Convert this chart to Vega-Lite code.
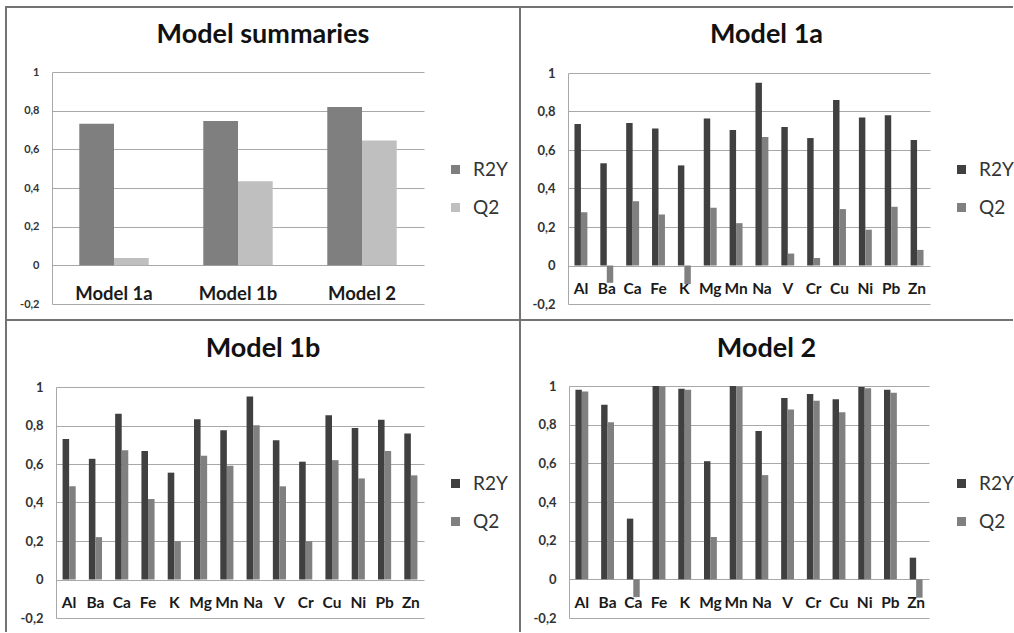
{
  "$schema": "https://vega.github.io/schema/vega-lite/v6.json",
  "padding": {"left": 5, "top": 6, "right": 0, "bottom": 0},
  "background": "white",
  "spacing": 0,
  "bounds": "flush",
  "columns": 2,
  "data": {"values": [
    {"p": "S", "el": "Model 1a", "s": "R2Y", "v": 0.732},
    {"p": "S", "el": "Model 1a", "s": "Q2", "v": 0.038},
    {"p": "S", "el": "Model 1b", "s": "R2Y", "v": 0.746},
    {"p": "S", "el": "Model 1b", "s": "Q2", "v": 0.435},
    {"p": "S", "el": "Model 2", "s": "R2Y", "v": 0.819},
    {"p": "S", "el": "Model 2", "s": "Q2", "v": 0.646},

    {"p": "1a", "el": "Al", "s": "R2Y", "v": 0.735}, {"p": "1a", "el": "Al", "s": "Q2", "v": 0.277},
    {"p": "1a", "el": "Ba", "s": "R2Y", "v": 0.531}, {"p": "1a", "el": "Ba", "s": "Q2", "v": -0.09},
    {"p": "1a", "el": "Ca", "s": "R2Y", "v": 0.740}, {"p": "1a", "el": "Ca", "s": "Q2", "v": 0.334},
    {"p": "1a", "el": "Fe", "s": "R2Y", "v": 0.712}, {"p": "1a", "el": "Fe", "s": "Q2", "v": 0.265},
    {"p": "1a", "el": "K", "s": "R2Y", "v": 0.520}, {"p": "1a", "el": "K", "s": "Q2", "v": -0.096},
    {"p": "1a", "el": "Mg", "s": "R2Y", "v": 0.764}, {"p": "1a", "el": "Mg", "s": "Q2", "v": 0.300},
    {"p": "1a", "el": "Mn", "s": "R2Y", "v": 0.704}, {"p": "1a", "el": "Mn", "s": "Q2", "v": 0.220},
    {"p": "1a", "el": "Na", "s": "R2Y", "v": 0.950}, {"p": "1a", "el": "Na", "s": "Q2", "v": 0.667},
    {"p": "1a", "el": "V", "s": "R2Y", "v": 0.719}, {"p": "1a", "el": "V", "s": "Q2", "v": 0.062},
    {"p": "1a", "el": "Cr", "s": "R2Y", "v": 0.662}, {"p": "1a", "el": "Cr", "s": "Q2", "v": 0.039},
    {"p": "1a", "el": "Cu", "s": "R2Y", "v": 0.860}, {"p": "1a", "el": "Cu", "s": "Q2", "v": 0.293},
    {"p": "1a", "el": "Ni", "s": "R2Y", "v": 0.769}, {"p": "1a", "el": "Ni", "s": "Q2", "v": 0.186},
    {"p": "1a", "el": "Pb", "s": "R2Y", "v": 0.781}, {"p": "1a", "el": "Pb", "s": "Q2", "v": 0.305},
    {"p": "1a", "el": "Zn", "s": "R2Y", "v": 0.652}, {"p": "1a", "el": "Zn", "s": "Q2", "v": 0.081},

    {"p": "1b", "el": "Al", "s": "R2Y", "v": 0.730}, {"p": "1b", "el": "Al", "s": "Q2", "v": 0.484},
    {"p": "1b", "el": "Ba", "s": "R2Y", "v": 0.627}, {"p": "1b", "el": "Ba", "s": "Q2", "v": 0.220},
    {"p": "1b", "el": "Ca", "s": "R2Y", "v": 0.861}, {"p": "1b", "el": "Ca", "s": "Q2", "v": 0.671},
    {"p": "1b", "el": "Fe", "s": "R2Y", "v": 0.667}, {"p": "1b", "el": "Fe", "s": "Q2", "v": 0.418},
    {"p": "1b", "el": "K", "s": "R2Y", "v": 0.555}, {"p": "1b", "el": "K", "s": "Q2", "v": 0.199},
    {"p": "1b", "el": "Mg", "s": "R2Y", "v": 0.832}, {"p": "1b", "el": "Mg", "s": "Q2", "v": 0.643},
    {"p": "1b", "el": "Mn", "s": "R2Y", "v": 0.775}, {"p": "1b", "el": "Mn", "s": "Q2", "v": 0.591},
    {"p": "1b", "el": "Na", "s": "R2Y", "v": 0.951}, {"p": "1b", "el": "Na", "s": "Q2", "v": 0.801},
    {"p": "1b", "el": "V", "s": "R2Y", "v": 0.723}, {"p": "1b", "el": "V", "s": "Q2", "v": 0.484},
    {"p": "1b", "el": "Cr", "s": "R2Y", "v": 0.612}, {"p": "1b", "el": "Cr", "s": "Q2", "v": 0.199},
    {"p": "1b", "el": "Cu", "s": "R2Y", "v": 0.853}, {"p": "1b", "el": "Cu", "s": "Q2", "v": 0.620},
    {"p": "1b", "el": "Ni", "s": "R2Y", "v": 0.787}, {"p": "1b", "el": "Ni", "s": "Q2", "v": 0.525},
    {"p": "1b", "el": "Pb", "s": "R2Y", "v": 0.830}, {"p": "1b", "el": "Pb", "s": "Q2", "v": 0.667},
    {"p": "1b", "el": "Zn", "s": "R2Y", "v": 0.759}, {"p": "1b", "el": "Zn", "s": "Q2", "v": 0.541},

    {"p": "2", "el": "Al", "s": "R2Y", "v": 0.981}, {"p": "2", "el": "Al", "s": "Q2", "v": 0.972},
    {"p": "2", "el": "Ba", "s": "R2Y", "v": 0.903}, {"p": "2", "el": "Ba", "s": "Q2", "v": 0.813},
    {"p": "2", "el": "Ca", "s": "R2Y", "v": 0.314}, {"p": "2", "el": "Ca", "s": "Q2", "v": -0.092},
    {"p": "2", "el": "Fe", "s": "R2Y", "v": 1.0}, {"p": "2", "el": "Fe", "s": "Q2", "v": 0.999},
    {"p": "2", "el": "K", "s": "R2Y", "v": 0.986}, {"p": "2", "el": "K", "s": "Q2", "v": 0.981},
    {"p": "2", "el": "Mg", "s": "R2Y", "v": 0.611}, {"p": "2", "el": "Mg", "s": "Q2", "v": 0.219},
    {"p": "2", "el": "Mn", "s": "R2Y", "v": 1.0}, {"p": "2", "el": "Mn", "s": "Q2", "v": 0.998},
    {"p": "2", "el": "Na", "s": "R2Y", "v": 0.767}, {"p": "2", "el": "Na", "s": "Q2", "v": 0.539},
    {"p": "2", "el": "V", "s": "R2Y", "v": 0.938}, {"p": "2", "el": "V", "s": "Q2", "v": 0.879},
    {"p": "2", "el": "Cr", "s": "R2Y", "v": 0.959}, {"p": "2", "el": "Cr", "s": "Q2", "v": 0.924},
    {"p": "2", "el": "Cu", "s": "R2Y", "v": 0.931}, {"p": "2", "el": "Cu", "s": "Q2", "v": 0.864},
    {"p": "2", "el": "Ni", "s": "R2Y", "v": 0.995}, {"p": "2", "el": "Ni", "s": "Q2", "v": 0.988},
    {"p": "2", "el": "Pb", "s": "R2Y", "v": 0.981}, {"p": "2", "el": "Pb", "s": "Q2", "v": 0.965},
    {"p": "2", "el": "Zn", "s": "R2Y", "v": 0.112}, {"p": "2", "el": "Zn", "s": "Q2", "v": -0.095}
  ]},
  "resolve": {"scale": {"x": "independent", "y": "independent", "color": "independent", "xOffset": "independent"}, "legend": {"color": "independent"}},
  "concat": [
    {
      "width": 514, "height": 313,
      "view": {"stroke": "#737373", "strokeWidth": 2},
      "title": {"text": "Model summaries", "offset": -42},
      "transform": [{"filter": "datum.p === 'S'"}],
      "mark": "bar",
      "encoding": {
        "x": {"field": "el", "type": "nominal", "sort": ["Model 1a", "Model 1b", "Model 2"],
          "scale": {"range": [46, 418], "paddingInner": 0.44, "paddingOuter": 0.22},
          "axis": {"title": null, "offset": -27, "labelPadding": 0, "labelBaseline": "middle", "labelAngle": 0, "domain": false, "ticks": false, "tickSize": 0, "labelFontSize": 18.5, "labelColor": "#1a1a1a", "grid": false}},
        "xOffset": {"field": "s", "type": "nominal", "sort": ["R2Y", "Q2"], "scale": {"paddingInner": 0}},
        "y": {"field": "v", "type": "quantitative",
          "scale": {"domain": [-0.2, 1], "range": [297, 65], "nice": false, "zero": false},
          "axis": {"title": null, "values": [-0.2, 0, 0.2, 0.4, 0.6, 0.8, 1], "offset": -46, "labelPadding": 13, "labelFontSize": 11, "labelExpr": "replace(toString(round(datum.value*10)/10), '.', ',')"}},
        "color": {"field": "s", "type": "nominal",
          "scale": {"domain": ["R2Y", "Q2"], "range": ["#7f7f7f", "#bfbfbf"]},
          "legend": {"legendX": 440, "legendY": 153}}
      }
    },
    {
      "width": 493, "height": 313,
      "view": {"stroke": "#737373", "strokeWidth": 2, "strokeDash": [493, 1300]},
      "title": {"text": "Model 1a", "offset": -42},
      "transform": [{"filter": "datum.p === '1a'"}],
      "mark": "bar",
      "encoding": {
        "x": {"field": "el", "type": "nominal", "sort": ["Al", "Ba", "Ca", "Fe", "K", "Mg", "Mn", "Na", "V", "Cr", "Cu", "Ni", "Pb", "Zn"],
          "scale": {"range": [48, 410], "paddingInner": 0.5, "paddingOuter": 0.25},
          "axis": {"title": null, "offset": -32, "labelPadding": 0, "labelBaseline": "middle", "labelAngle": 0, "domain": false, "ticks": false, "tickSize": 0, "labelFontSize": 15.5, "labelColor": "#1a1a1a", "grid": false}},
        "xOffset": {"field": "s", "type": "nominal", "sort": ["R2Y", "Q2"], "scale": {"paddingInner": 0}},
        "y": {"field": "v", "type": "quantitative",
          "scale": {"domain": [-0.2, 1], "range": [297, 66], "nice": false, "zero": false},
          "axis": {"title": null, "values": [-0.2, 0, 0.2, 0.4, 0.6, 0.8, 1], "offset": -48, "labelPadding": 13, "labelFontSize": 13, "labelExpr": "replace(toString(round(datum.value*10)/10), '.', ',')"}},
        "color": {"field": "s", "type": "nominal",
          "scale": {"domain": ["R2Y", "Q2"], "range": ["#404040", "#808080"]},
          "legend": {"legendX": 432, "legendY": 153}}
      }
    },
    {
      "width": 514, "height": 312,
      "view": {"stroke": "#737373", "strokeWidth": 2, "strokeDash": [826, 514, 312, 0]},
      "title": {"text": "Model 1b", "offset": -43},
      "transform": [{"filter": "datum.p === '1b'"}],
      "mark": "bar",
      "encoding": {
        "x": {"field": "el", "type": "nominal", "sort": ["Al", "Ba", "Ca", "Fe", "K", "Mg", "Mn", "Na", "V", "Cr", "Cu", "Ni", "Pb", "Zn"],
          "scale": {"range": [50, 418], "paddingInner": 0.5, "paddingOuter": 0.25},
          "axis": {"title": null, "offset": -30, "labelPadding": 0, "labelBaseline": "middle", "labelAngle": 0, "domain": false, "ticks": false, "tickSize": 0, "labelFontSize": 15.5, "labelColor": "#1a1a1a", "grid": false}},
        "xOffset": {"field": "s", "type": "nominal", "sort": ["R2Y", "Q2"], "scale": {"paddingInner": 0}},
        "y": {"field": "v", "type": "quantitative",
          "scale": {"domain": [-0.2, 1], "range": [298, 67], "nice": false, "zero": false},
          "axis": {"title": null, "values": [-0.2, 0, 0.2, 0.4, 0.6, 0.8, 1], "offset": -50, "labelPadding": 13, "labelFontSize": 13, "labelExpr": "replace(toString(round(datum.value*10)/10), '.', ',')"}},
        "color": {"field": "s", "type": "nominal",
          "scale": {"domain": ["R2Y", "Q2"], "range": ["#404040", "#808080"]},
          "legend": {"legendX": 440, "legendY": 154}}
      }
    },
    {
      "width": 493, "height": 312,
      "view": {"stroke": "#737373", "strokeWidth": 2, "strokeDash": [493, 1300]},
      "title": {"text": "Model 2", "offset": -43},
      "transform": [{"filter": "datum.p === '2'"}],
      "mark": "bar",
      "encoding": {
        "x": {"field": "el", "type": "nominal", "sort": ["Al", "Ba", "Ca", "Fe", "K", "Mg", "Mn", "Na", "V", "Cr", "Cu", "Ni", "Pb", "Zn"],
          "scale": {"range": [49, 409], "paddingInner": 0.5, "paddingOuter": 0.25},
          "axis": {"title": null, "offset": -30, "labelPadding": 0, "labelBaseline": "middle", "labelAngle": 0, "domain": false, "ticks": false, "tickSize": 0, "labelFontSize": 15.5, "labelColor": "#1a1a1a", "grid": false}},
        "xOffset": {"field": "s", "type": "nominal", "sort": ["R2Y", "Q2"], "scale": {"paddingInner": 0}},
        "y": {"field": "v", "type": "quantitative",
          "scale": {"domain": [-0.2, 1], "range": [298, 66], "nice": false, "zero": false},
          "axis": {"title": null, "values": [-0.2, 0, 0.2, 0.4, 0.6, 0.8, 1], "offset": -49, "labelPadding": 13, "labelFontSize": 13, "labelExpr": "replace(toString(round(datum.value*10)/10), '.', ',')"}},
        "color": {"field": "s", "type": "nominal",
          "scale": {"domain": ["R2Y", "Q2"], "range": ["#404040", "#808080"]},
          "legend": {"legendX": 432, "legendY": 154}}
      }
    }
  ],
  "config": {
    "font": "Lato",
    "title": {"font": "Lato", "fontSize": 27, "fontWeight": "bold", "color": "#111111", "anchor": "middle", "frame": "group", "baseline": "middle"},
    "axis": {"labelFont": "Lato", "labelFontWeight": "bold", "labelColor": "#333333", "ticks": false, "tickSize": 0, "grid": true, "gridColor": "#a8a8a8", "gridWidth": 1, "domain": true, "domainColor": "#a8a8a8", "domainWidth": 1},
    "legend": {"orient": "none", "title": null, "symbolType": "square", "symbolSize": 81, "symbolStrokeWidth": 0, "labelFont": "Lato", "labelFontSize": 19, "labelColor": "#333333", "rowPadding": 18, "labelOffset": 8, "padding": 0}
  }
}
